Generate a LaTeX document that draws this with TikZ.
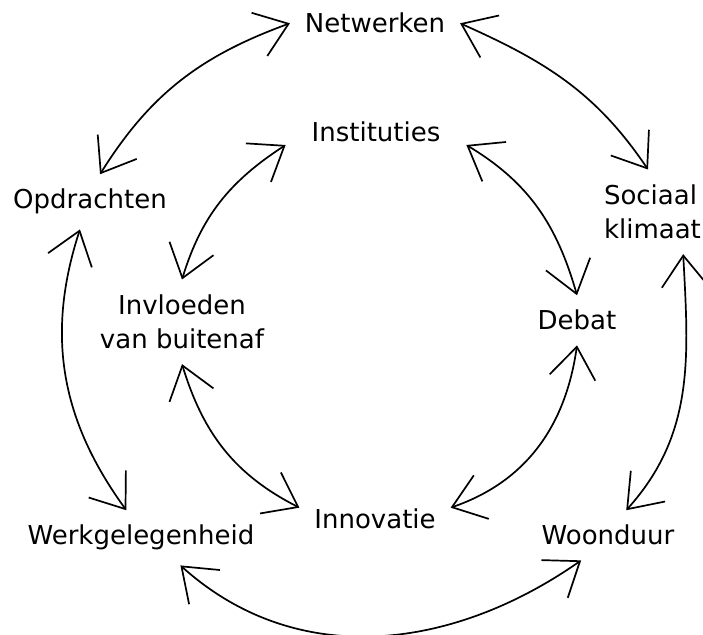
\documentclass[tikz,border=0pt]{standalone}
\usepackage{fontspec}
\setmainfont{DejaVu Sans}
\usetikzlibrary{arrows.meta}

\tikzset{
  lbl/.style={font=\fontsize{26}{34.5}\selectfont, inner sep=0pt, outer sep=15pt},
  link/.style={<->, line width=1.7pt},
  >={Straight Barb[length=31pt,width=46pt]}
}

\begin{document}
\begin{tikzpicture}[x=1pt,y=1pt]
  \useasboundingbox (0,0) rectangle (703,634);

  \node[lbl, anchor=base] (net) at (375,601) {Netwerken};
  \node[lbl, anchor=base, inner xsep=11pt] (inst) at (376,492) {Instituties};
  \node[lbl, anchor=base] (opd) at (90,425) {Opdrachten};
  \node[lbl, anchor=north west, align=left] (soc) at (589,464.5) {Sociaal\\klimaat};
  \node[lbl, anchor=north, align=center] (inv) at (182,354.5) {Invloeden\\van buitenaf};
  \node[lbl, anchor=base] (deb) at (577,304) {Debat};
  \node[lbl, anchor=base] (werk) at (141,89) {Werkgelegenheid};
  \node[lbl, anchor=base] (innov) at (375,106) {Innovatie};
  \node[lbl, anchor=base] (woon) at (608,89) {Woonduur};

  % outer ring
  \draw[link] (opd.70) to[out=58,in=200] (net.west);
  \draw[link] (net.east) to[out=336,in=124] (soc.96);
  \draw[link] (opd.250) to[out=252,in=126] (werk.118);
  \draw[link] (soc.306) to[out=273,in=48] (woon.54);
  \draw[link] (werk.325) to[out=318,in=215] (woon.223);

  % inner ring
  \draw[link] (inv.north) to[out=73,in=213] (inst.188);
  \draw[link] (inst.352) to[out=329,in=106] (deb.north);
  \draw[link] (inv.south) to[out=287,in=153] (innov.172);
  \draw[link] (deb.south) to[out=262,in=19] (innov.8);
\end{tikzpicture}
\end{document}
